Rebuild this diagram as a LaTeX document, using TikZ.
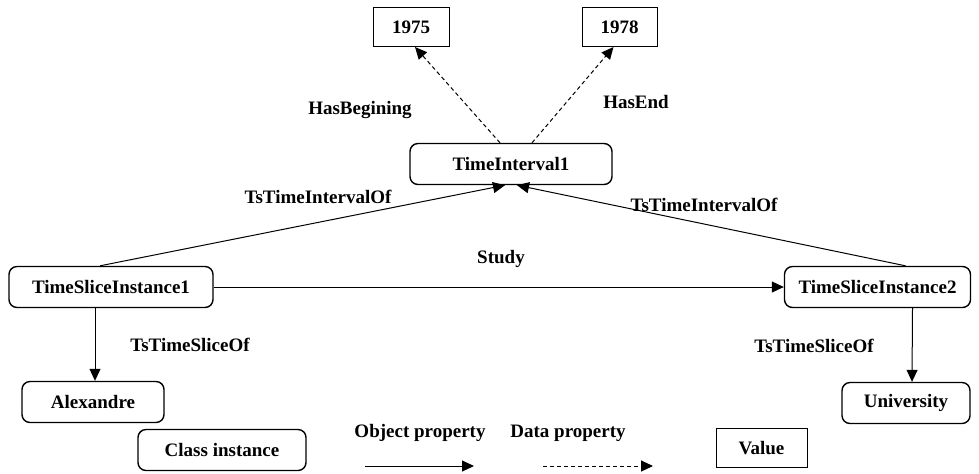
\documentclass[tikz,border=0pt]{standalone}
\usepackage{fontspec}
\setmainfont{Liberation Serif}
\usetikzlibrary{arrows.meta,positioning}

\begin{document}
\begin{tikzpicture}[x=0.5pt,y=-0.5pt,line width=0.5pt,
  font=\fontsize{9.5}{11}\selectfont\bfseries,
  inst/.style={draw,rounded corners=4pt,line width=0.7pt,minimum height=20.5pt,inner sep=0pt},
  val/.style={draw,line width=0.5pt,minimum height=19.5pt,inner sep=0pt},
  objprop/.style={-{Triangle[length=6pt,width=5.5pt]}},
  dataprop/.style={-{Triangle[length=6pt,width=5.5pt]},dash pattern=on 2pt off 1.5pt},
  lbl/.style={inner sep=1pt}]
\useasboundingbox (0,0) rectangle (979,473);
%% values
\node[val,minimum width=38pt] (y1975) at (411,27)  {1975}; %%
\node[val,minimum width=37.5pt] (y1978) at (619.5,27)  {1978}; %%
%% class instances
\node[inst,minimum width=101pt] (ti)   at (511,164) {TimeInterval1}; %%
\node[inst,minimum width=102pt] (tsi1) at (111,287) {TimeSliceInstance1}; %%
\node[inst,minimum width=93pt]  (tsi2) at (877.5,287) {TimeSliceInstance2}; %%
\node[inst,minimum width=71pt]  (alex) at (93,402) {Alexandre}; %%
\node[inst,minimum width=64pt]  (univ) at (906,403) {University}; %%
%% data properties
\draw[dataprop] ([xshift=-5.5pt]ti.north) -- ([xshift=2pt]y1975.south); %%
\draw[dataprop] ([xshift=10.5pt]ti.north) -- ([xshift=-3pt]y1978.south); %%
\node[lbl] (hb) at (360,110) {HasBegining}; %%
\node[lbl] (he) at (636,102) {HasEnd}; %%
%% object properties
\draw[objprop] ([xshift=-5.5pt]tsi1.north) -- ([xshift=-3pt]ti.south); %%
\draw[objprop] ([xshift=14pt]tsi2.north) -- ([xshift=3pt]ti.south); %%
\node[lbl] (tio1) at (318,197) {TsTimeIntervalOf}; %%
\node[lbl] (tio2) at (704,205) {TsTimeIntervalOf}; %%
\draw[objprop] (tsi1.east) -- (tsi2.west); %%
\node[lbl] (st) at (501,259) {Study}; %%
\draw[objprop] ([xshift=-8pt]tsi1.south) -- ([xshift=1pt]alex.north); %%
\node[lbl] (tso1) at (190,345) {TsTimeSliceOf}; %%
\draw[objprop] ([xshift=17.5pt]tsi2.south) -- ([xshift=3pt]univ.north); %%
\node[lbl] (tso2) at (814,346) {TsTimeSliceOf}; %%
%% legend
\node[inst,minimum width=84pt] (lci) at (222,450) {Class instance}; %%
\node[lbl] (lop) at (420,433) {Object property}; %%
\coordinate (op1) at (365,466); \coordinate (op2) at (474,466); %%
\draw[objprop] (op1) -- (op2); %%
\node[lbl] (ldp) at (568,433) {Data property}; %%
\coordinate (dp1) at (543,466); \coordinate (dp2) at (653,466); %%
\draw[dataprop] (dp1) -- (dp2); %%
\node[val,minimum width=45.5pt] (lval) at (761.5,448) {Value}; %%
\end{tikzpicture}
\end{document}
